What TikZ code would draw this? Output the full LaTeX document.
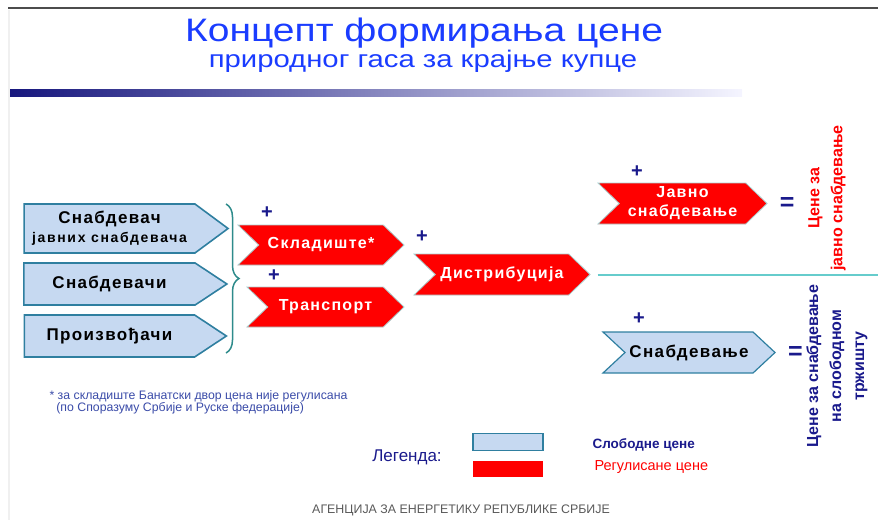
\documentclass[tikz,border=0pt]{standalone}
\usepackage{fontspec}
\setmainfont{Liberation Sans}
\newfontfamily\boxfont[LetterSpace=8]{Liberation Sans}
\newfontfamily\widefont[LetterSpace=12]{Liberation Sans}
\usetikzlibrary{shapes.symbols, positioning, decorations.pathreplacing}
\definecolor{freefill}{HTML}{C6D9F1}
\definecolor{freeline}{HTML}{2F7FA0}
\definecolor{titleblue}{HTML}{1A3CFF}
\definecolor{navy}{HTML}{1A1A8C}
\definecolor{bracecol}{HTML}{2E8B8B}
\definecolor{linecyan}{HTML}{66CCCC}
\definecolor{noteblue}{HTML}{3A4BA8}
\definecolor{redline}{HTML}{A8D0D0}

\begin{document}
\begin{tikzpicture}[
    x = 1pt, y = -1pt, align = center,
    free/.style = {
      signal, signal to = east, draw = freeline, fill = freefill,
      line width = 1.6pt, inner sep = 0pt,
      font = \boxfont\bfseries\fontsize{17}{19}\selectfont
    },
    regulated/.style = {
      signal, signal to = east, signal from = west, signal pointer angle = 88,
      draw = redline, fill = red, line width = 0.8pt, inner sep = 0pt,
      text = white, font = \boxfont\bfseries\fontsize{16}{19}\selectfont
    },
    plus/.style = {
      text = navy, inner sep = 0pt, font = \bfseries\fontsize{20}{20}\selectfont
    },
    equal/.style = {
      text = navy, inner sep = 0pt, font = \bfseries\fontsize{25}{25}\selectfont
    },
    result/.style = {
      rotate = 90, inner sep = 0pt, font = \bfseries\fontsize{16}{23}\selectfont
    },
    legendbox/.style = {
      rectangle, minimum width = 70pt, inner sep = 0pt
    },
    heading/.style = {
      text = titleblue, anchor = base, inner sep = 0pt
    },
    ]

    % draw frame and title
    \useasboundingbox  (0,0)  rectangle  (878,520);
    \draw  [black!70, line width = 2pt]  (8,8)  --  (878,8);
    \draw  [black!6, line width = 2pt]  (9,10)  --  (9,520);
    \node  [heading, font = \fontsize{32.5}{32.5}\selectfont]  (title)  at (424,41.5)
      {\scalebox{1.2}[1]{Концепт формирања цене}};
    \node  [heading, font = \fontsize{24}{24}\selectfont]  (subtitle)  at (423,67.5)
      {\scalebox{1.22}[1]{природног гаса за крајње купце}};
    \shade  [left color = navy!90!black, right color = blue!4]  (10,89)  rectangle  (742,96);

    % draw market players
    \node  [free, signal pointer angle = 73, minimum width = 204pt, minimum height = 49pt]  (snjs)  at (109.5,228.5)
      {Снабдевач\\{\widefont\fontsize{14}{15}\selectfont јавних снабдевача}};
    \node  [free, signal pointer angle = 67, minimum width = 203pt, minimum height = 42pt]  (snab)  at (109.5,284)  {Снабдевачи};
    \node  [free, signal pointer angle = 67, minimum width = 202pt, minimum height = 42pt]  (proi)  at (109.5,336)  {Произвођачи};

    % draw brace
    \coordinate  (br_top)  at (226,204);
    \coordinate  (br_bot)  at (226,353);
    \draw  [bracecol, line width = 1.5pt, decorate, decoration = {brace, amplitude = 13pt}]  (br_top)  --  (br_bot);

    % draw regulated services
    \node  [regulated, minimum width = 166pt, minimum height = 40pt]  (skl)  at (321,245)  {Складиште*};
    \node  [regulated, minimum width = 157pt, minimum height = 40pt]  (trans)  at (325.5,307)  {Транспорт};
    \node  [regulated, minimum width = 176pt, minimum height = 41pt]  (dist)  at (502,274.5)  {Дистрибуција};
    \node  [regulated, minimum width = 169pt, minimum height = 41pt]  (javno)  at (682.5,203.5)
      {Јавно\\снабдевање};
    \node  [free, signal from = west, signal pointer angle = 86, minimum width = 172pt, minimum height = 41pt, line width = 1.2pt]  (snabd)  at (689,352.5)  {Снабдевање};

    % draw plus signs
    \node  [plus]  (plus_skl)  at (267,213)  {+};
    \node  [plus]  (plus_trans)  at (274,276)  {+};
    \node  [plus]  (plus_dist)  at (422,237)  {+};
    \node  [plus]  (plus_javno)  at (637,172)  {+};
    \node  [plus]  (plus_snabd)  at (639,319)  {+};

    % draw separating line
    \coordinate  (line_end)  at (878,275);
    \draw  [linecyan, line width = 2pt]  (dist.east)  ++(7,0)  --  (dist.east -| line_end);

    % draw results
    \node  [equal]  (eq_javno)  [right = 12pt of javno.east]  {=};
    \node  [equal]  (eq_snabd)  [right = 12pt of snabd.east]  {=};
    \node  [result, text = red]  (res_javno)  at (827,198)  {Цене за\\јавно снабдевање};
    \node  [result, text = navy]  (res_snabd)  at (837,366)  {Цене за снабдевање\\на слободном\\тржишту};

    % draw footnote
    \node  [text = noteblue, align = left, font = \fontsize{12.3}{12.5}\selectfont, anchor = north west]  (note)  at (46,387)
      {* за складиште Банатски двор цена није регулисана\\\ \ (по Споразуму Србије и Руске федерације)};

    % draw legend
    \node  [text = navy, font = \fontsize{17}{17}\selectfont]  (legend)  at (407,457)  {Легенда:};
    \node  [legendbox, minimum height = 17pt, draw = freeline, fill = freefill, line width = 1.6pt]  (leg_free)  at (508,442)  {};
    \node  [legendbox, minimum height = 16pt, fill = red]  (leg_reg)  at (508,469)  {};
    \node  [text = navy, font = \bfseries\fontsize{13.5}{13.5}\selectfont, anchor = west]  (leg_free_txt)  at (589,445)  {Слободне цене};
    \node  [text = red, font = \fontsize{14.5}{14.5}\selectfont, anchor = west]  (leg_reg_txt)  at (591,467)  {Регулисане цене};

    % draw footer
    \node  [text = black!65, font = \fontsize{12.4}{12.4}\selectfont]  (footer)  at (461,510)  {АГЕНЦИЈА ЗА ЕНЕРГЕТИКУ РЕПУБЛИКЕ СРБИЈЕ};

\end{tikzpicture}
\end{document}
